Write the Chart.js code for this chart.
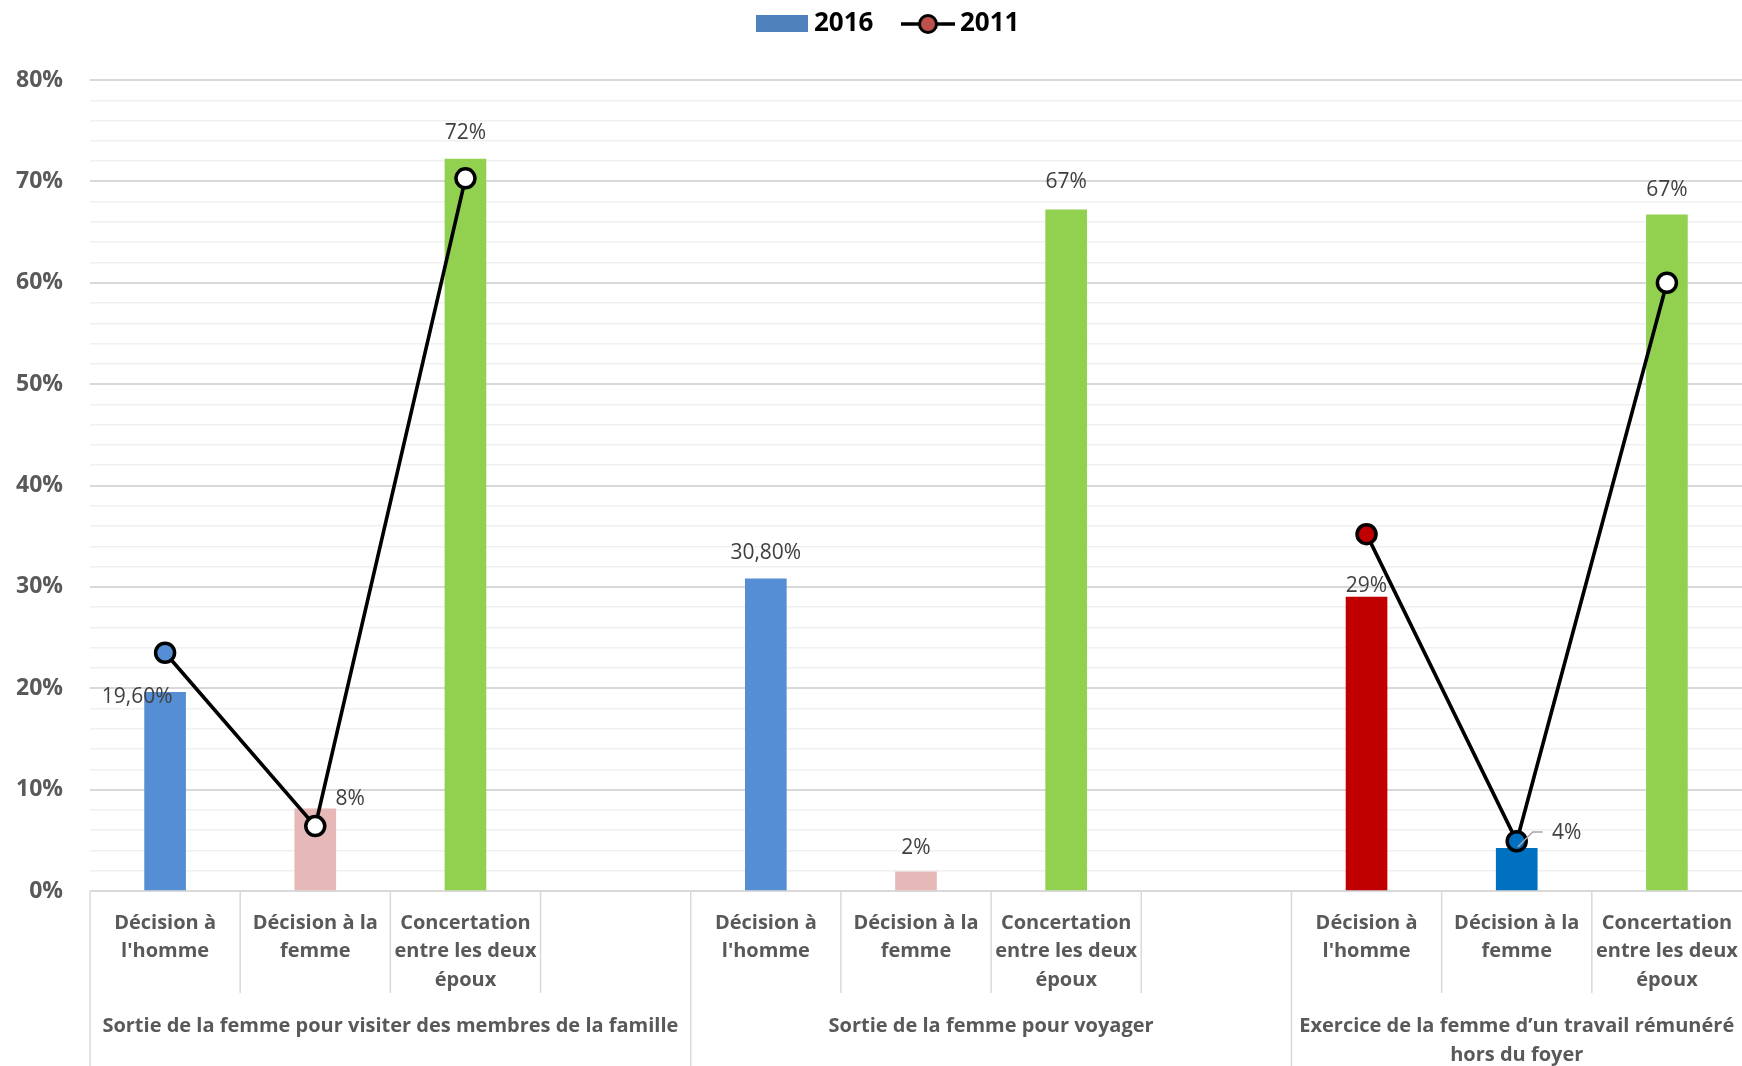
<!DOCTYPE html>
<html><head><meta charset="utf-8">
<script src="https://cdn.jsdelivr.net/npm/chart.js@4.4.1/dist/chart.umd.min.js"></script>
<style>html,body{margin:0;padding:0;background:#fff}</style>
</head><body>
<canvas id="c" width="1742" height="1066"></canvas>
<script>
// ---- data ----
const categories = [
  ["Décision à","l'homme"], ["Décision à la","femme"], ["Concertation","entre les deux","époux"], "",
  ["Décision à","l'homme"], ["Décision à la","femme"], ["Concertation","entre les deux","époux"], "",
  ["Décision à","l'homme"], ["Décision à la","femme"], ["Concertation","entre les deux","époux"]
];
const groupLabels = [
  ["Sortie de la femme pour visiter des membres de la famille"],
  ["Sortie de la femme pour voyager"],
  ["Exercice de la femme d’un travail rémunéré","hors du foyer"]
];
const groupStart = [0, 4, 8];
const groupEnd = [3, 7, 10];
const values2016 = [19.6, 8.1, 72.2, null, 30.8, 1.9, 67.2, null, 29.0, 4.2, 66.7];
const labels2016 = ["19,60%","8%","72%","","30,80%","2%","67%","","29%","4%","67%"];
const values2011 = [23.5, 6.4, 70.3, null, null, null, null, null, 35.2, 4.9, 60.0];
const seriesNames = ["2016", "2011"];
const yMax = 80, yMinorStep = 2, yMajorStep = 10;

// ---- styles ----
const barColors = ['#558ED5','#E6B9B8','#92D050',null,'#558ED5','#E6B9B8','#92D050',null,'#C00000','#0070C0','#92D050'];
const pointFills = ['#558ED5','#FFFFFF','#FFFFFF',null,null,null,null,null,'#C00000','#0070C0','#FFFFFF'];
// label offsets relative to bar top centre (dx, dy)
const labelOffsets = [[-28,5],[35,-10],[0,-26],[0,0],[0,-26],[0,-24],[0,-28],[0,0],[0,-11],[50,-15],[0,-25]];
const FONT = "'Open Sans', 'Noto Sans', sans-serif";
const GRAY = '#595959';

const legendPlugin = {
  id: 'legendDraw',
  afterDraw(chart) {
    const ctx = chart.ctx;
    const cx = chart.width / 2;
    const y = 24;
    ctx.save();
    ctx.fillStyle = '#4F81BD';
    ctx.fillRect(cx - 115, y - 9, 52, 17);
    ctx.strokeStyle = '#000';
    ctx.lineWidth = 3.5;
    ctx.beginPath(); ctx.moveTo(cx + 30, y); ctx.lineTo(cx + 84, y); ctx.stroke();
    ctx.beginPath(); ctx.arc(cx + 57, y, 8.5, 0, Math.PI * 2);
    ctx.fillStyle = '#C0504D'; ctx.fill(); ctx.lineWidth = 3; ctx.stroke();
    ctx.font = "bold 26px " + FONT;
    ctx.fillStyle = '#000';
    ctx.textAlign = 'left';
    ctx.textBaseline = 'middle';
    ctx.fillText(seriesNames[0], cx - 57, y);
    ctx.fillText(seriesNames[1], cx + 89, y);
    ctx.restore();
  }
};

const overlay = {
  id: 'overlay',
  afterDatasetsDraw(chart) {
    const ctx = chart.ctx;
    const meta = chart.getDatasetMeta(1);
    ctx.save();
    ctx.font = "21px " + FONT;
    ctx.fillStyle = '#404040';
    ctx.textAlign = 'center';
    ctx.textBaseline = 'middle';
    meta.data.forEach((el, i) => {
      if (values2016[i] == null || !labels2016[i]) return;
      const [dx, dy] = labelOffsets[i];
      if (i === 9) {
        ctx.save();
        ctx.strokeStyle = '#A6A6A6'; ctx.lineWidth = 1.5;
        ctx.beginPath();
        ctx.moveTo(el.x + 1, el.y - 1.5);
        ctx.lineTo(el.x + 16, el.y - 16.5);
        ctx.lineTo(el.x + 26, el.y - 16.5);
        ctx.stroke();
        ctx.restore();
      }
      ctx.fillText(labels2016[i], el.x + dx, el.y + dy);
    });
    ctx.restore();
  },
  afterDraw(chart) {
    const ctx = chart.ctx;
    const xs = chart.scales.x;
    const top = chart.chartArea.bottom;
    const half = (xs.getPixelForValue(1) - xs.getPixelForValue(0)) / 2;
    ctx.save();
    ctx.strokeStyle = '#D9D9D9';
    ctx.lineWidth = 1.5;
    for (let i = 0; i < categories.length; i++) {
      const bx = xs.getPixelForValue(i) - half;
      const isGroup = groupStart.includes(i);
      ctx.beginPath();
      ctx.moveTo(bx, top);
      ctx.lineTo(bx, isGroup ? chart.height : top + 102);
      ctx.stroke();
    }
    ctx.font = "bold 20px " + FONT;
    ctx.fillStyle = GRAY;
    ctx.textAlign = 'center';
    ctx.textBaseline = 'middle';
    groupLabels.forEach((lines, g) => {
      const x0 = xs.getPixelForValue(groupStart[g]) - half;
      const x1 = Math.min(xs.getPixelForValue(groupEnd[g]) + half, chart.chartArea.right);
      const cx = (x0 + x1) / 2;
      lines.forEach((t, k) => ctx.fillText(t, cx, top + 135 + k * 29.5));
    });
    ctx.restore();
  }
};

new Chart(document.getElementById('c'), {
  type: 'bar',
  data: {
    labels: categories,
    datasets: [
      {
        type: 'line',
        label: seriesNames[1],
        data: values2011,
        borderColor: '#000',
        borderWidth: 3.6,
        tension: 0,
        spanGaps: false,
        pointRadius: 9.5,
        pointBorderWidth: 3.5,
        pointBorderColor: '#000',
        pointBackgroundColor: pointFills,
        order: 0
      },
      {
        type: 'bar',
        label: seriesNames[0],
        data: values2016,
        backgroundColor: barColors,
        barThickness: 41,
        order: 1
      }
    ]
  },
  options: {
    responsive: false,
    animation: false,
    devicePixelRatio: 1,
    layout: { autoPadding: false, padding: { left: 0, right: 0, top: 80, bottom: 0 } },
    plugins: {
      tooltip: { enabled: false },
      legend: { display: false }
    },
    scales: {
      x: {
        grid: { display: false, drawTicks: false },
        border: { display: false },
        ticks: {
          color: GRAY,
          padding: 18,
          autoSkip: false,
          maxRotation: 0,
          font: { family: FONT, size: 20, weight: 'bold', lineHeight: 1.42 }
        },
        afterFit(scale) { scale.height = 175; scale.paddingLeft = 0; scale.paddingRight = 0; }
      },
      y: {
        min: 0,
        max: yMax,
        grid: {
          drawTicks: false,
          color: (c) => (c.tick && c.tick.value % yMajorStep === 0) ? '#D9D9D9' : '#F0F0F0',
          lineWidth: (c) => (c.tick && c.tick.value % yMajorStep === 0) ? 2 : 1.5
        },
        border: { display: false },
        ticks: {
          stepSize: yMinorStep,
          autoSkip: false,
          padding: 27,
          color: GRAY,
          font: { family: FONT, size: 23, weight: 'bold' },
          callback: (v) => (v % yMajorStep === 0) ? v + '%' : ''
        },
        afterFit(scale) { scale.width = 90; scale.paddingTop = 0; scale.paddingBottom = 0; }
      }
    }
  },
  plugins: [overlay, legendPlugin]
});
</script>
</body></html>
